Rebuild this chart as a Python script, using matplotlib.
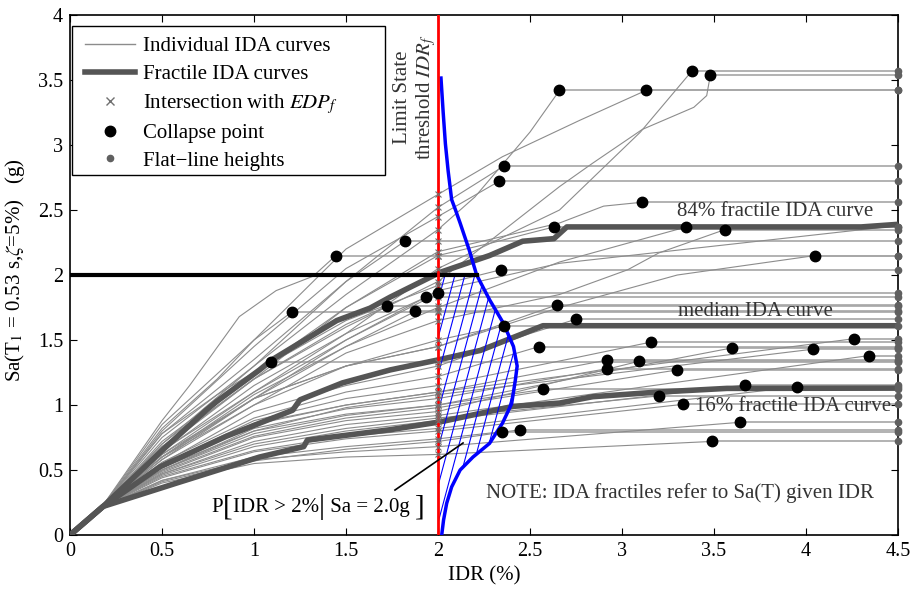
import numpy as np
import matplotlib.pyplot as plt
from matplotlib.lines import Line2D
from matplotlib.patches import Polygon, Rectangle

plt.rcParams["font.family"] = ["Liberation Serif", "DejaVu Serif"]
plt.rcParams["mathtext.fontset"] = "stix"
plt.rcParams["font.size"] = 15

# ---- values (IDR in %, Sa in g) ----
elastic_idr, elastic_sa = 0.17, 0.21
idr_end = 4.5
edp_f = 2.0
sa_level = 2.0

collapse_idr = [1.09, 1.205, 1.445, 1.72, 1.82, 1.875, 1.935, 2.0, 2.33, 2.36, 2.34, 2.36,
                2.35, 2.445, 2.55, 2.57, 2.63, 2.645, 2.66, 2.75, 2.92, 2.92, 3.09, 3.11,
                3.13, 3.16, 3.2, 3.3, 3.33, 3.35, 3.38, 3.48, 3.49, 3.56, 3.6, 3.64, 3.67,
                3.95, 4.04, 4.05, 4.26, 4.34]
collapse_sa = [1.33, 1.715, 2.15, 1.76, 2.26, 1.72, 1.83, 1.86, 2.72, 2.84, 2.04, 1.61,
               0.795, 0.81, 1.45, 1.12, 2.37, 1.77, 3.42, 1.66, 1.346, 1.28, 1.336, 2.56,
               3.42, 1.485, 1.07, 1.27, 1.005, 2.37, 3.57, 3.54, 0.72, 2.35, 1.44, 0.867,
               1.154, 1.14, 1.43, 2.15, 1.51, 1.38]

# knots between the elastic point and the collapse point, one list per record
ida_knots = [
    [(0.5, 0.78), (0.8, 1.08)],
    [(0.5, 0.82), (0.8, 1.2), (1.0, 1.5)],
    [(0.5, 0.88), (0.65, 1.15), (0.92, 1.68), (1.12, 1.88), (1.32, 1.99)],
    [(0.5, 0.68), (1.0, 1.2), (1.5, 1.62)],
    [(0.5, 0.78), (1.0, 1.35), (1.5, 1.95)],
    [(0.5, 0.6), (1.0, 1.08), (1.5, 1.45)],
    [(0.5, 0.64), (1.0, 1.15), (1.5, 1.55)],
    [(0.5, 0.58), (1.0, 1.05), (1.5, 1.5)],
    [(0.5, 0.8), (1.0, 1.45), (1.5, 2.05), (2.0, 2.45)],
    [(0.5, 0.75), (1.0, 1.3), (1.5, 1.95), (2.0, 2.52)],
    [(0.5, 0.72), (1.0, 1.25), (1.5, 1.65), (2.0, 1.92)],
    [(0.5, 0.6), (1.0, 1.0), (1.5, 1.3), (2.0, 1.5)],
    [(0.5, 0.42), (1.0, 0.6), (1.5, 0.68), (2.0, 0.74)],
    [(0.5, 0.41), (1.0, 0.57), (1.5, 0.66), (2.0, 0.72)],
    [(0.5, 0.56), (1.0, 0.9), (1.5, 1.1), (2.0, 1.22)],
    [(0.5, 0.5), (1.0, 0.78), (1.5, 0.92), (2.0, 1.0)],
    [(0.5, 0.68), (1.0, 1.2), (1.5, 1.75), (2.0, 2.15), (2.3, 2.25)],
    [(0.5, 0.62), (1.0, 1.05), (1.5, 1.3), (2.0, 1.45)],
    [(0.5, 0.7), (1.0, 1.3), (1.5, 1.85), (2.0, 2.35), (2.2, 2.6), (2.5, 3.1)],
    [(0.5, 0.55), (1.0, 0.95), (1.5, 1.15), (2.0, 1.3), (2.5, 1.55)],
    [(0.5, 0.52), (1.0, 0.85), (1.5, 1.0), (2.0, 1.1)],
    [(0.5, 0.5), (1.0, 0.82), (1.5, 0.97), (2.0, 1.05)],
    [(0.5, 0.48), (1.0, 0.75), (1.5, 0.88), (2.0, 0.95)],
    [(0.5, 0.7), (1.0, 1.25), (1.5, 1.75), (2.0, 2.18), (2.66, 2.4), (2.9, 2.53)],
    [(0.5, 0.85), (1.0, 1.5), (1.5, 2.2), (2.0, 2.62), (2.35, 2.91), (2.77, 3.19)],
    [(0.5, 0.54), (1.0, 0.88), (1.5, 1.05), (2.0, 1.15), (2.7, 1.35)],
    [(0.5, 0.47), (1.0, 0.7), (1.5, 0.82), (2.0, 0.9)],
    [(0.5, 0.49), (1.0, 0.76), (1.5, 0.9), (2.0, 0.98)],
    [(0.5, 0.44), (1.0, 0.64), (1.5, 0.74), (2.0, 0.8)],
    [(0.5, 0.6), (1.0, 1.05), (1.5, 1.45), (2.0, 1.75), (2.66, 2.1)],
    [(0.5, 0.62), (1.0, 1.1), (1.5, 1.55), (2.0, 2.05), (2.66, 2.5), (3.1, 3.1)],
    [(0.5, 0.66), (1.0, 1.2), (1.5, 1.6), (2.0, 1.95), (2.66, 2.68), (2.84, 2.86),
     (3.11, 3.12), (3.39, 3.29), (3.46, 3.38)],
    [(0.5, 0.4), (1.0, 0.55), (1.5, 0.6), (2.0, 0.62)],
    [(0.5, 0.58), (1.0, 1.0), (1.5, 1.4), (2.0, 1.65), (2.66, 1.85), (3.03, 2.04), (3.2, 2.17)],
    [(0.5, 0.5), (1.0, 0.8), (1.5, 0.93), (2.0, 1.0), (2.9, 1.25)],
    [(0.5, 0.42), (1.0, 0.58), (1.5, 0.64), (2.0, 0.68)],
    [(0.5, 0.46), (1.0, 0.68), (1.5, 0.8), (2.0, 0.88)],
    [(0.5, 0.45), (1.0, 0.65), (1.5, 0.76), (2.0, 0.82)],
    [(0.5, 0.52), (1.0, 0.8), (1.5, 0.98), (2.0, 1.08)],
    [(0.5, 0.6), (1.0, 1.05), (1.5, 1.3), (2.0, 1.45), (2.66, 1.75), (3.3, 2.0)],
    [(0.5, 0.53), (1.0, 0.86), (1.5, 1.0), (2.0, 1.1)],
    [(0.5, 0.47), (1.0, 0.72), (1.5, 0.85), (2.0, 0.92)],
]
# record that does not collapse inside the plotted range
open_knots = [(0.5, 0.65), (1.0, 1.1), (1.5, 1.5), (2.0, 1.88), (2.66, 2.09), (4.5, 2.38)]

p84_idr = [0, 0.18, 0.5, 0.74, 0.8, 1.03, 1.1, 1.45, 1.63, 1.74, 2.01, 2.28, 2.46, 2.63, 2.7, 4.3, 4.5]
p84_sa = [0, 0.22, 0.65, 0.96, 1.03, 1.27, 1.35, 1.65, 1.745, 1.83, 2.02, 2.15, 2.26, 2.28, 2.37, 2.37, 2.39]
p50_idr = [0, 0.18, 0.49, 0.85, 1.21, 1.25, 1.48, 1.74, 2.01, 2.23, 2.57, 4.5]
p50_sa = [0, 0.22, 0.525, 0.76, 0.96, 1.04, 1.17, 1.27, 1.35, 1.42, 1.61, 1.61]
p16_idr = [0, 0.18, 0.58, 1.03, 1.27, 1.29, 1.74, 2.01, 2.41, 2.66, 2.84, 3.2, 3.57, 4.5]
p16_sa = [0, 0.22, 0.40, 0.60, 0.68, 0.73, 0.81, 0.87, 0.99, 1.015, 1.064, 1.10, 1.128, 1.13]

# capacity density drawn sideways from IDR = 2 %
pdf_idr = [2.02, 2.03, 2.047, 2.074, 2.12, 2.19, 2.28, 2.35, 2.40, 2.42, 2.43, 2.41,
           2.355, 2.28, 2.21, 2.17, 2.12, 2.095, 2.074, 2.055, 2.04, 2.028, 2.016]
pdf_sa = [0, 0.115, 0.244, 0.37, 0.5, 0.60, 0.705, 0.86, 1.01, 1.19, 1.30, 1.45,
          1.63, 1.81, 2.0, 2.19, 2.40, 2.50, 2.58, 2.8, 3.01, 3.25, 3.515]

x_ticks = [0, 0.5, 1, 1.5, 2, 2.5, 3, 3.5, 4, 4.5]
x_labels = ["0", "0.5", "1", "1.5", "2", "2.5", "3", "3.5", "4", "4.5"]
y_ticks = [0, 0.5, 1, 1.5, 2, 2.5, 3, 3.5, 4]
y_labels = ["0", "0.5", "1", "1.5", "2", "2.5", "3", "3.5", "4"]

CURVE, FLAT, FRAC = "#8c8c8c", "#a6a6a6", "#555555"
TXT = "#333333"

fig = plt.figure(figsize=(9.15, 5.96), dpi=100)
ax = fig.add_axes([0.0765, 0.1023, 0.905, 0.8725])

# ---- individual IDA curves + flat lines ----
cross_sa = []
for knots, cx, cy in zip(ida_knots, collapse_idr, collapse_sa):
    xs = [0, elastic_idr] + [k[0] for k in knots] + [cx]
    ys = [0, elastic_sa] + [k[1] for k in knots] + [cy]
    ax.plot(xs, ys, color=CURVE, lw=0.8, zorder=2)
    ax.plot([cx, idr_end], [cy, cy], color=FLAT, lw=1.2, zorder=2)
    cross_sa.append(np.interp(edp_f, xs + [idr_end], ys + [cy]))
xs = [0, elastic_idr] + [k[0] for k in open_knots]
ys = [0, elastic_sa] + [k[1] for k in open_knots]
ax.plot(xs, ys, color=CURVE, lw=0.8, zorder=2)
cross_sa.append(np.interp(edp_f, xs, ys))

# ---- fractiles ----
for fx, fy in [(p16_idr, p16_sa), (p50_idr, p50_sa), (p84_idr, p84_sa)]:
    ax.plot(fx, fy, color=FRAC, lw=4, solid_capstyle="butt", zorder=3)

# ---- hatched P[IDR > 2% | Sa = 2g] ----
low = [(x, y) for x, y in zip(pdf_idr, pdf_sa) if y <= sa_level]
region = Polygon([(edp_f, 0)] + low + [(edp_f, sa_level)],
                 closed=True, facecolor="none", edgecolor="none")
ax.add_patch(region)
for c in np.arange(1.55, 2.5, 0.054):
    ln, = ax.plot([c, c + 0.19 * 2.2], [0, 2.2], color="#0000ff", lw=0.8, zorder=4)
    ln.set_clip_path(region)

ax.plot(pdf_idr, pdf_sa, color="#0000ff", lw=2.5, zorder=5)
ax.plot([0, 2.21], [sa_level, sa_level], color="black", lw=3, zorder=5)
ax.axvline(edp_f, color="#ff0000", lw=2, zorder=6)

# ---- markers ----
ax.plot([edp_f] * len(cross_sa), cross_sa, "x", color="#707070", ms=5, mew=0.8, zorder=7)
ax.plot(collapse_idr, collapse_sa, "o", color="black", ms=7.5, zorder=8)
ax.plot([idr_end] * len(collapse_sa), collapse_sa, "o", color="#606060", ms=4.5,
        zorder=8, clip_on=False)

# ---- labels ----
ax.text(3.83, 2.485, "84% fractile IDA curve", ha="center", va="center", color=TXT, zorder=9)
ax.text(3.725, 1.72, "median IDA curve", ha="center", va="center", color=TXT, zorder=9)
ax.text(3.93, 0.99, "16% fractile IDA curve", ha="center", va="center", color=TXT, zorder=9)
ax.text(3.315, 0.32, "NOTE: IDA fractiles refer to Sa(T) given IDR", ha="center",
        va="center", color=TXT, zorder=9)
ax.text(1.877, 3.37, "Limit State\nthreshold $\\it{IDR}_f$", rotation=90, ha="center",
        va="center", multialignment="center", color=TXT, zorder=9, linespacing=1.1)

# P[ IDR > 2% | Sa = 2.0g ] built piece by piece so the brackets can be tall
pieces = [("P", 15), ("[", 21), ("IDR > 2%", 15), ("|", 21), (" Sa = 2.0g ", 15), ("]", 21)]
prev = ax.text(0.77, 0.215, pieces[0][0], fontsize=pieces[0][1], ha="left", va="center",
               color="black", zorder=9)
for s, fs in pieces[1:]:
    prev = ax.annotate(s, xy=(1, 0.5), xycoords=prev, ha="left", va="center", fontsize=fs,
                       color="black", zorder=9)
ax.plot([1.766, 2.136], [0.346, 0.708], color="black", lw=1.2, zorder=9)

# ---- legend (frame drawn separately: it is wider than the entries) ----
ax.add_patch(Rectangle((0.0024, 0.6923), 0.378, 0.2865, transform=ax.transAxes,
                       facecolor="white", edgecolor="black", lw=1.0, zorder=9.5))
handles = [
    Line2D([], [], color=CURVE, lw=1.0),
    Line2D([], [], color=FRAC, lw=4),
    Line2D([], [], ls="none", marker="x", color="#707070", ms=6),
    Line2D([], [], ls="none", marker="o", color="black", ms=7.5),
    Line2D([], [], ls="none", marker="o", color="#606060", ms=4.5),
]
names = ["Individual IDA curves", "Fractile IDA curves", "Intersection with $\\it{EDP}_f$",
         "Collapse point", "Flat\u2212line heights"]
leg = ax.legend(handles, names, loc="upper left", bbox_to_anchor=(0.009, 0.972),
                borderaxespad=0, frameon=False, fontsize=15, handlelength=2.4,
                handletextpad=0.4, labelspacing=0.38, borderpad=0.35)
leg.set_zorder(10)

ax.set_xlim(0, 4.5)
ax.set_ylim(0, 4)
ax.set_xticks(x_ticks)
ax.set_xticklabels(x_labels)
ax.set_yticks(y_ticks)
ax.set_yticklabels(y_labels)
ax.tick_params(direction="in", top=True, right=True, labelsize=14.5, length=5, pad=5)
for s in ax.spines.values():
    s.set_linewidth(1.2)
ax.set_xlabel("IDR (%)", fontsize=15, labelpad=4)
ax.set_ylabel("Sa(T$_1$ = 0.53 s,$\\zeta$=5%)   (g)", fontsize=15, labelpad=4)
ax.yaxis.set_label_coords(-0.052, 0.51)

fig.savefig("out.png", dpi=100)
